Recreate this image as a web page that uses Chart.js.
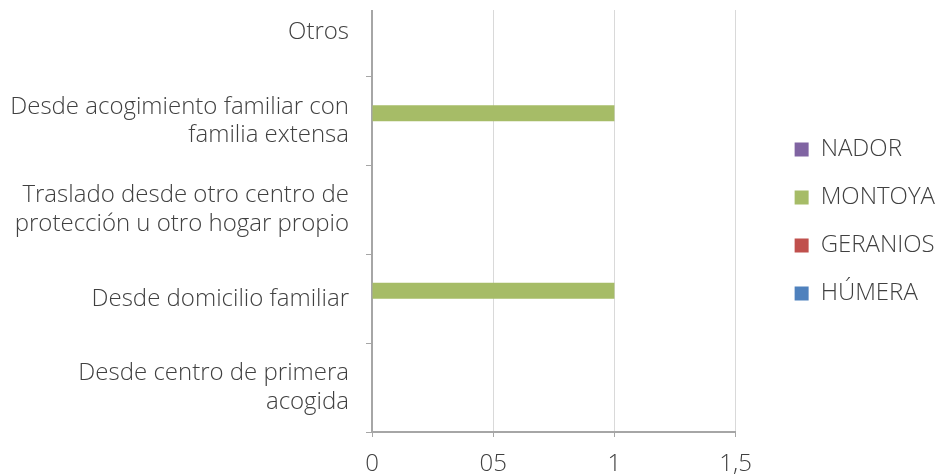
<!DOCTYPE html>
<html>
<head>
<meta charset="utf-8">
<script src="https://cdn.jsdelivr.net/npm/chart.js@4/dist/chart.umd.min.js"></script>
<style>
  html, body { margin: 0; padding: 0; background: #fff; }
  #wrap { position: relative; width: 937px; height: 475px; overflow: hidden; }
  #chart { position: absolute; left: 0; top: -22px; }
  /* the plot runs off the top edge; trim the axis lines there */
  #trim { position: absolute; left: 355px; top: 0; width: 400px; height: 10px; background: #fff; }
</style>
</head>
<body>
<div id="wrap">
  <canvas id="chart" width="937" height="497"></canvas>
  <div id="trim"></div>
</div>
<script>
'use strict';

var categories = [
  ['Otros'],
  ['Desde acogimiento familiar con', 'familia extensa'],
  ['Traslado desde otro centro de', 'protección u otro hogar propio'],
  ['Desde domicilio familiar'],
  ['Desde centro de primera', 'acogida']
];

// one value per category, same order as above
var nador = [0, 0, 0, 0, 0];
var montoya = [0, 1, 0, 1, 0];
var geranios = [0, 0, 0, 0, 0];
var humera = [0, 0, 0, 0, 0];

var xTickLabels = ['0', '05', '1', '1,5'];

var textColor = '#404040';
var axisColor = '#a6a6a6';
var gridColor = '#d9d9d9';
var fontFamily = '"Open Sans", "DejaVu Sans", sans-serif';

// nudge the legend away from the plot
var legendShift = {
  id: 'legendShift',
  afterLayout: function (chart) {
    var lg = chart.legend;
    lg.left += 35;
    lg.right += 35;
    lg.top -= 10;
    lg.bottom -= 10;
  }
};

var ctx = document.getElementById('chart').getContext('2d');

var chart = new Chart(ctx, {
  type: 'bar',
  data: {
    labels: categories,
    datasets: [
      { label: 'NADOR', data: nador, backgroundColor: '#8064a2' },
      { label: 'MONTOYA', data: montoya, backgroundColor: '#a6bc67' },
      { label: 'GERANIOS', data: geranios, backgroundColor: '#c0504d' },
      { label: 'HÚMERA', data: humera, backgroundColor: '#4f81bd' }
    ]
  },
  options: {
    indexAxis: 'y',
    responsive: false,
    animation: false,
    categoryPercentage: 0.72,
    barPercentage: 1,
    layout: { padding: { top: 10, right: 27, left: 0, bottom: 0 } },
    plugins: {
      tooltip: { enabled: false },
      legend: {
        position: 'right',
        align: 'center',
        labels: {
          boxWidth: 14,
          boxHeight: 14,
          padding: 24,
          color: textColor,
          font: { family: fontFamily, size: 24, weight: 300 }
        }
      }
    },
    scales: {
      x: {
        min: 0,
        max: 1.5,
        ticks: {
          stepSize: 0.5,
          color: textColor,
          padding: 13,
          font: { family: fontFamily, size: 24, weight: 300 },
          callback: function (value, index) { return xTickLabels[index]; }
        },
        grid: { color: gridColor, lineWidth: 1, tickLength: 5, tickColor: axisColor },
        border: { color: axisColor, width: 2 },
        afterFit: function (scale) { scale.height = 43; }
      },
      y: {
        ticks: {
          color: textColor,
          padding: 17,
          font: { family: fontFamily, size: 24, weight: 300, lineHeight: 1.2 }
        },
        grid: { drawOnChartArea: false, tickLength: 6, tickColor: axisColor, lineWidth: 1 },
        border: { color: axisColor, width: 2 },
        afterFit: function (scale) {
          scale.width = 372;
          scale.paddingTop = 0;
          scale.paddingBottom = 0;
        }
      }
    }
  },
  plugins: [legendShift]
});
</script>
</body>
</html>
